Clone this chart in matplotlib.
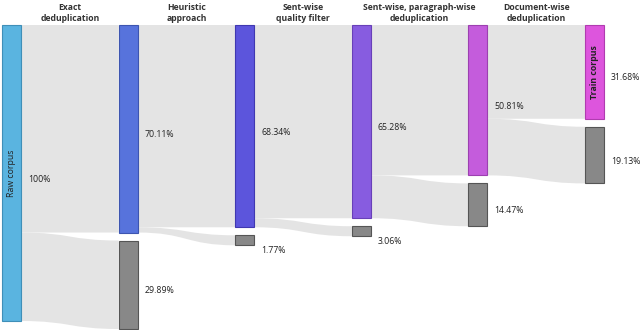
import matplotlib.pyplot as plt
from matplotlib.path import Path
from matplotlib.patches import PathPatch, Rectangle
import numpy as np

# stage names (column titles between nodes)
stage_titles = ['Exact\ndeduplication', 'Heuristic\napproach', 'Sent-wise\nquality filter',
                'Sent-wise, paragraph-wise\ndeduplication', 'Document-wise\ndeduplication']
# share of corpus kept after each stage (main nodes)
kept = [100.0, 70.11, 68.34, 65.28, 50.81, 31.68]
# share removed at each stage (gray nodes)
removed = [29.89, 1.77, 3.06, 14.47, 19.13]
node_colors = ['#5ab4e0', '#5773dc', '#5c55dc', '#875ce0', '#c45cdc', '#dd55dd']
edge_colors = ['#3f8fb8', '#3d55b0', '#4038b0', '#6840b8', '#9c40b0', '#b03cb0']
node_names = {0: 'Raw corpus', 5: 'Train corpus'}

W, H = 640, 330
top, scale = 25, 2.96     # px per percent
node_w, gap, min_h = 19, 8, 10
link_color = '#e4e4e4'
xs = np.linspace(2, 585, len(kept))

fig = plt.figure(figsize=(W / 100, H / 100), dpi=100)
ax = fig.add_axes([0, 0, 1, 1])
ax.set_xlim(0, W)
ax.set_ylim(H, 0)
ax.axis('off')

font = 'Open Sans'


def ribbon(x0, a0, a1, x1, b0, b1):
    xm = (x0 + x1) / 2
    verts = [(x0, a0), (xm, a0), (xm, b0), (x1, b0),
             (x1, b1), (xm, b1), (xm, a1), (x0, a1), (x0, a0)]
    codes = [Path.MOVETO, Path.CURVE4, Path.CURVE4, Path.CURVE4,
             Path.LINETO, Path.CURVE4, Path.CURVE4, Path.CURVE4, Path.CLOSEPOLY]
    ax.add_patch(PathPatch(Path(verts, codes), facecolor=link_color, edgecolor='none', zorder=1))


def node(x, y0, y1, fc, ec):
    ax.add_patch(Rectangle((x, y0), node_w, y1 - y0, facecolor=fc, edgecolor=ec, lw=0.8, zorder=3))


def label(x, y0, y1, val):
    h = y1 - y0
    y = (y0 + y1) / 2 + 6 if h > 20 else y1 + 5
    ax.text(x + node_w + 7, y, f'{val:g}%', fontsize=6.3, family=font,
            color='#222222', ha='left', va='center', zorder=4)


# main nodes
main_bounds = []
for i, v in enumerate(kept):
    y0, y1 = top, top + v * scale
    main_bounds.append((y0, y1))
    node(xs[i], y0, y1, node_colors[i], edge_colors[i])
    label(xs[i], y0, y1, v)
    if i in node_names:
        ax.text(xs[i] + node_w / 2, (y0 + y1) / 2, node_names[i], rotation=90, fontsize=6.3,
                family=font, fontweight='bold' if i == 5 else 'normal',
                color='#222222', ha='center', va='center', zorder=4)

# removed nodes and links
for i, r in enumerate(removed):
    src0, src1 = main_bounds[i]
    x0 = xs[i] + node_w
    x1 = xs[i + 1]
    # kept flow
    k0, k1 = main_bounds[i + 1]
    ribbon(x0, src0, src0 + kept[i + 1] * scale, x1, k0, k1)
    # removed flow
    g0 = k1 + gap
    g1 = g0 + max(r * scale, min_h)
    ribbon(x0, src0 + kept[i + 1] * scale, src1, x1, g0, g1)
    node(x1, g0, g1, '#888888', '#555555')
    label(x1, g0, g1, r)
    # stage title
    ax.text((x0 + x1) / 2, 13, stage_titles[i], fontsize=6.2, family=font, fontweight='bold',
            color='#333333', ha='center', va='center', linespacing=1.3)

fig.savefig('out.png', dpi=100, facecolor='white')
